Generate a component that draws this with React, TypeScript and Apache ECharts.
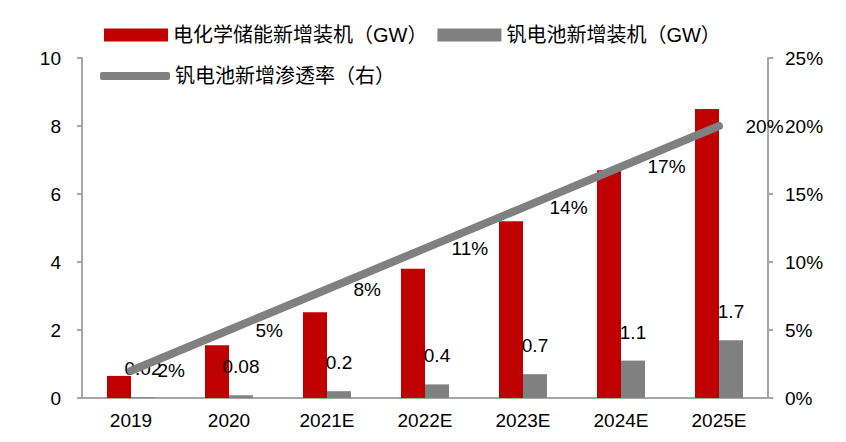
import React, { useEffect, useRef } from "react";
import * as echarts from "echarts";

const categories = ["2019", "2020", "2021E", "2022E", "2023E", "2024E", "2025E"];
const storageAdded = [0.65, 1.55, 2.52, 3.8, 5.2, 6.7, 8.5];
const vanadiumAdded = [0.02, 0.08, 0.2, 0.4, 0.7, 1.1, 1.7];
const penetration = [2, 5, 8, 11, 14, 17, 20];
const leftTicks = { min: 0, max: 10, interval: 2 };
const rightTicks = { min: 0, max: 25, interval: 5 };

const FONT = "'Liberation Sans', Arial, 'Noto Sans CJK SC', sans-serif";
const AXIS_COLOR = "#a6a6a6";

export default function App() {
  const ref = useRef<HTMLDivElement>(null);
  useEffect(() => {
    if (!ref.current) return;
    const chart = echarts.init(ref.current, undefined, { renderer: "svg" });
    const labelText = { fontSize: 19, color: "#000", fontFamily: FONT };
    const legendText = { fontSize: 20, color: "#000", fontFamily: FONT };
    chart.setOption({
      animation: false,
      textStyle: { fontFamily: FONT },
      legend: [
        {
          left: 104,
          top: 25,
          padding: 0,
          itemWidth: 64,
          itemHeight: 13,
          itemGap: 10,
          textStyle: legendText,
          data: [
            { name: "电化学储能新增装机（GW）", icon: "rect" },
            { name: "钒电池新增装机（GW）", icon: "rect" },
          ],
        },
        {
          left: 100,
          top: 66,
          padding: 0,
          itemWidth: 70,
          itemHeight: 8,
          textStyle: legendText,
          data: [
            {
              name: "钒电池新增渗透率（右）",
              icon: "roundRect",
              itemStyle: { color: "#808080", opacity: 1 },
            },
          ],
        },
      ],
      grid: { left: 82, right: 78, top: 58, bottom: 44 },
      xAxis: {
        type: "category",
        data: categories,
        axisLine: { lineStyle: { color: AXIS_COLOR, width: 2 } },
        axisTick: { show: false },
        axisLabel: { ...labelText, margin: 13 },
      },
      yAxis: [
        {
          type: "value",
          ...leftTicks,
          axisLine: { show: true, lineStyle: { color: AXIS_COLOR, width: 2 } },
          axisTick: { show: true, length: 5, lineStyle: { color: AXIS_COLOR, width: 2 } },
          splitLine: { show: false },
          axisLabel: { ...labelText, margin: 21 },
        },
        {
          type: "value",
          ...rightTicks,
          position: "right",
          axisLine: { show: true, lineStyle: { color: AXIS_COLOR, width: 2 } },
          axisTick: { show: true, length: 5, lineStyle: { color: AXIS_COLOR, width: 2 } },
          splitLine: { show: false },
          axisLabel: { ...labelText, margin: 17, formatter: "{value}%" },
        },
      ],
      series: [
        {
          name: "电化学储能新增装机（GW）",
          type: "bar",
          data: storageAdded,
          barWidth: 24,
          barGap: "0%",
          itemStyle: { color: "#c00000" },
        },
        {
          name: "钒电池新增装机（GW）",
          type: "bar",
          data: vanadiumAdded,
          barWidth: 24,
          barGap: "0%",
          itemStyle: { color: "#808080" },
          label: { show: true, position: "top", distance: 19, ...labelText },
        },
        {
          name: "钒电池新增渗透率（右）",
          type: "line",
          yAxisIndex: 1,
          data: penetration,
          symbol: "circle",
          symbolSize: 1,
          showSymbol: true,
          itemStyle: { color: "#808080", opacity: 0 },
          lineStyle: { color: "#808080", width: 8, cap: "round" },
          label: {
            show: true,
            position: "right",
            distance: 26,
            formatter: "{c}%",
            ...labelText,
            opacity: 1,
          },
          z: 3,
        },
      ],
    });
    return () => chart.dispose();
  }, []);
  return (
    <div
      ref={ref}
      style={{ position: "fixed", left: 0, top: 0, width: 846, height: 442, background: "#fff" }}
    />
  );
}
